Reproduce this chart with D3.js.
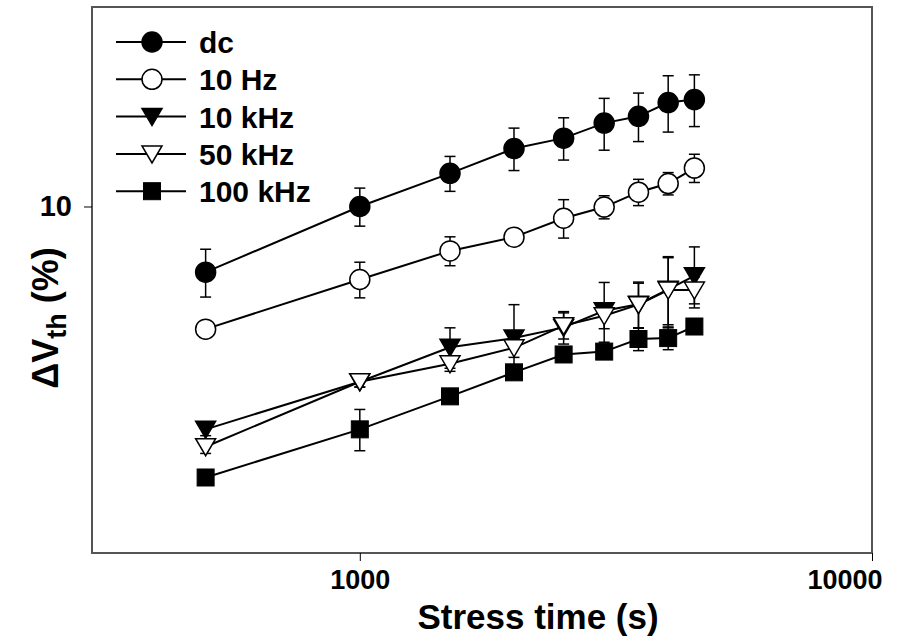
<!DOCTYPE html>
<html>
<head>
<meta charset="utf-8">
<script src="https://cdn.jsdelivr.net/npm/d3@7"></script>
<style>
  html, body { margin: 0; padding: 0; background: #fff; }
  svg { display: block; }
  text { font-family: "Liberation Sans", Arial, sans-serif; font-weight: bold; fill: #000; }
</style>
</head>
<body>
<svg id="chart" width="919" height="641"></svg>
<script>
// ---- data ----
const times = [500, 1000, 1500, 2000, 2500, 3000, 3500, 4000, 4500];
const seriesNames = ["dc", "10 Hz", "10 kHz", "50 kHz", "100 kHz"];
const dcVals   = [7.96, 10.0, 11.22, 12.23, 12.68, 13.36, 13.68, 14.35, 14.50];
const dcErr    = [0.66, 0.66, 0.68, 0.90, 0.93, 1.20, 1.15, 1.40, 1.30];
const hz10Vals = [6.53, 7.76, 8.57, 8.99, 9.60, 9.98, 10.51, 10.83, 11.43];
const hz10Err  = [0.15, 0.48, 0.43, 0.20, 0.64, 0.40, 0.48, 0.42, 0.56];
const k10Vals  = [4.61, 5.44, 6.13, 6.33, 6.57, 6.96, 7.12, 7.50, 7.86];
const k10Err   = [0.10, 0.10, 0.43, 0.78, 0.37, 0.72, 0.57, 0.87, 0.83];
const k50Vals  = [4.34, 5.44, 5.79, 6.12, 6.61, 6.84, 7.11, 7.48, 7.48];
const k50Err   = [0.10, 0.10, 0.15, 0.20, 0.30, 0.30, 0.55, 0.92, 0.35];
const k100Vals = [3.90, 4.61, 5.17, 5.62, 5.98, 6.04, 6.31, 6.33, 6.59];
const k100Err  = [0.10, 0.33, 0.10, 0.10, 0.10, 0.10, 0.25, 0.25, 0.10];
const xTicks = [1000, 10000];
const yTicks = [10];
const xDomain = [300, 10000];
const yDomain = [3, 20];

// ---- layout ----
const plot = { left: 92, right: 872, top: 7, bottom: 553 };
const svg = d3.select("#chart");

const x = d3.scaleLog().domain(xDomain).range([plot.left, plot.right]);
const y = d3.scaleLog().domain(yDomain).range([plot.bottom, plot.top]);

const symbols = [
  { shape: "circle",   fill: "#000" },
  { shape: "circle",   fill: "#fff" },
  { shape: "triDown",  fill: "#000" },
  { shape: "triDown",  fill: "#fff" },
  { shape: "square",   fill: "#000" }
];
const valsList = [dcVals, hz10Vals, k10Vals, k50Vals, k100Vals];
const errList = [dcErr, hz10Err, k10Err, k50Err, k100Err];

const series = seriesNames.map((name, i) => ({
  name,
  sym: symbols[i],
  points: times.map((t, j) => ({ t, v: valsList[i][j], e: errList[i][j] }))
}));

// frame
svg.append("rect")
  .attr("x", plot.left).attr("y", plot.top)
  .attr("width", plot.right - plot.left).attr("height", plot.bottom - plot.top)
  .attr("fill", "none").attr("stroke", "#555").attr("stroke-width", 2);

// axes (ticks outward, labels)
const xAxis = d3.axisBottom(x).tickValues(xTicks).tickSize(8).tickPadding(9)
  .tickFormat(d3.format("d"));
const gx = svg.append("g").attr("transform", `translate(0,${plot.bottom})`).call(xAxis);
gx.select(".domain").remove();
gx.selectAll("line").attr("stroke", "#000").attr("stroke-width", 1);
gx.selectAll("text").style("font-size", "27px").style("font-family", "Liberation Sans, Arial, sans-serif")
  .style("font-weight", "bold").attr("fill", "#000");
// the last label is kept inside the figure, right-aligned near its tick
gx.selectAll(".tick").filter(d => d === 10000).select("text")
  .attr("text-anchor", "end").attr("x", 10);

const yAxis = d3.axisLeft(y).tickValues(yTicks).tickSize(8).tickPadding(12)
  .tickFormat(d3.format("d"));
const gy = svg.append("g").attr("transform", `translate(${plot.left},0)`).call(yAxis);
gy.select(".domain").remove();
gy.selectAll("line").attr("stroke", "#000").attr("stroke-width", 1);
gy.selectAll("text").style("font-size", "29px").style("font-family", "Liberation Sans, Arial, sans-serif")
  .style("font-weight", "bold").attr("fill", "#000");

// axis titles
svg.append("text")
  .attr("x", (plot.left + plot.right) / 2 + 56).attr("y", 629)
  .attr("text-anchor", "middle").style("font-size", "35px")
  .text("Stress time (s)");

const yl = svg.append("text")
  .attr("transform", `translate(58,318) rotate(-90)`)
  .attr("text-anchor", "middle").style("font-size", "36px");
yl.append("tspan").text("\u0394V");
yl.append("tspan").attr("dy", 8).style("font-size", "27px").text("th");
yl.append("tspan").attr("dy", -8).text(" (%)");

// symbol drawing
function drawSymbol(g, sym, cx, cy) {
  if (sym.shape === "circle") {
    g.append("circle").attr("cx", cx).attr("cy", cy).attr("r", 10)
      .attr("fill", sym.fill).attr("stroke", "#000").attr("stroke-width", 1.5);
  } else if (sym.shape === "triDown") {
    const p = [[cx - 10, cy - 8], [cx + 10, cy - 8], [cx, cy + 9]];
    g.append("path").attr("d", "M" + p.map(q => q.join(",")).join("L") + "Z")
      .attr("fill", sym.fill).attr("stroke", "#000").attr("stroke-width", 1.5);
  } else if (sym.shape === "square") {
    g.append("rect").attr("x", cx - 8.5).attr("y", cy - 8.5).attr("width", 17).attr("height", 17)
      .attr("fill", sym.fill).attr("stroke", "#000").attr("stroke-width", 1);
  }
}

const line = d3.line().x(d => x(d.t)).y(d => y(d.v));

series.forEach(s => {
  const g = svg.append("g");
  g.append("path").attr("d", line(s.points)).attr("fill", "none")
    .attr("stroke", "#000").attr("stroke-width", 2);
  // error bars
  s.points.forEach(p => {
    const cx = x(p.t), y1 = y(p.v + p.e), y2 = y(p.v - p.e);
    g.append("line").attr("x1", cx).attr("x2", cx).attr("y1", y1).attr("y2", y2)
      .attr("stroke", "#000").attr("stroke-width", 1.5);
    [y1, y2].forEach(yy => g.append("line").attr("x1", cx - 5.5).attr("x2", cx + 5.5)
      .attr("y1", yy).attr("y2", yy).attr("stroke", "#000").attr("stroke-width", 1.5));
  });
  s.points.forEach(p => drawSymbol(g, s.sym, x(p.t), y(p.v)));
});

// legend
const legTop = 42, legStep = 37.3;
series.forEach((s, i) => {
  const ly = legTop + i * legStep;
  const g = svg.append("g");
  g.append("line").attr("x1", 116).attr("x2", 186).attr("y1", ly).attr("y2", ly)
    .attr("stroke", "#000").attr("stroke-width", 2);
  drawSymbol(g, s.sym, 152, ly);
  g.append("text").attr("x", 199).attr("y", ly + 11).style("font-size", "30px").text(s.name);
});
</script>
</body>
</html>
